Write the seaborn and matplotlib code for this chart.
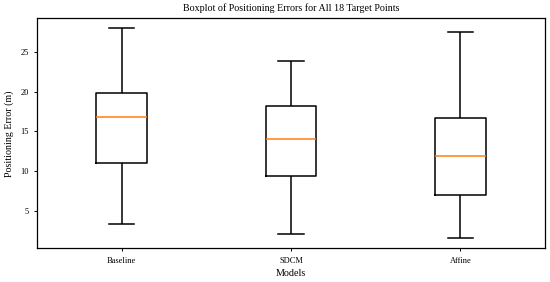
import pandas as pd
import numpy as np
import seaborn as sns
import matplotlib.pyplot as plt
# --------------------------------------------------------------------------------------------------
# Positioning errors (m) of the 18 target points, per model
models = ["Baseline", "SDCM", "Affine"]
baseline_err = [3.46, 6.2, 8.1, 9.7, 10.9, 11.3, 13.4, 15.2, 16.5, 17.08,
                18.1, 19.0, 19.78, 19.86, 22.5, 24.1, 25.6, 27.9]
sdcm_err = [2.09, 4.3, 6.1, 7.8, 9.3, 9.94, 11.2, 12.6, 13.7, 14.3,
            15.4, 16.8, 18.0, 18.27, 19.6, 21.0, 22.5, 23.8]
affine_err = [1.66, 3.2, 4.5, 5.9, 6.9, 7.66, 8.8, 10.1, 11.4, 12.36,
              13.5, 14.9, 16.4, 16.75, 18.9, 21.3, 24.2, 27.4]
# --------------------------------------------------------------------------------------------------
# Long format table for seaborn
df = pd.DataFrame({
    "Model": np.repeat(models, 18),
    "Error": baseline_err + sdcm_err + affine_err,
})
# --------------------------------------------------------------------------------------------------
plt.rcParams["font.family"] = ["Liberation Serif", "DejaVu Serif"]

fig = plt.figure(figsize=(5.5, 2.82), dpi=100)
ax = fig.add_axes([0.067, 0.119, 0.924, 0.816])

sns.boxplot(data=df, x="Model", y="Error", order=models, width=0.3, fill=False,
            color="black", linewidth=1.1, whis=1.5, ax=ax,
            medianprops=dict(color="#ff7f0e", linewidth=1.1))

ax.set_xlim(-0.5, 2.5)
ax.set_ylim(0.34, 29.17)
ax.set_yticks([5, 10, 15, 20, 25])
ax.tick_params(labelsize=6, length=2.5, width=0.7)
ax.set_xlabel("Models", fontsize=7.3, labelpad=3)
ax.set_ylabel("Positioning Error (m)", fontsize=7.2, labelpad=4)
ax.set_title("Boxplot of Positioning Errors for All 18 Target Points", fontsize=7.2, pad=5)
for s in ax.spines.values():
    s.set_linewidth(0.9)

fig.savefig("out.png", dpi=100)
